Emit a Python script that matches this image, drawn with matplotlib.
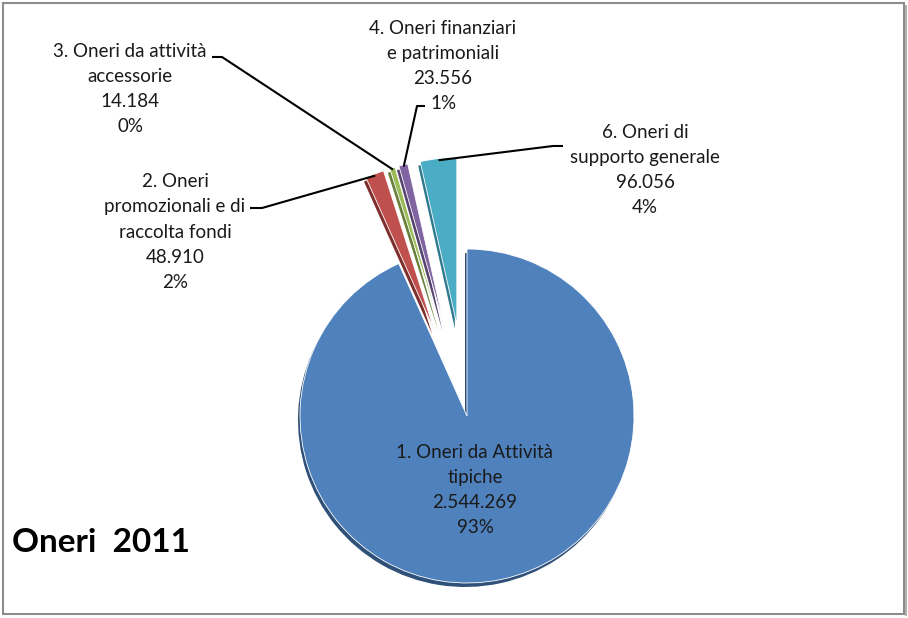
import numpy as np
import matplotlib
matplotlib.use("Agg")
import matplotlib.pyplot as plt
from matplotlib.patches import Rectangle

W, H = 908, 618

# data
names = ["1. Oneri da Attività\ntipiche", "2. Oneri\npromozionali e di\nraccolta fondi",
         "3. Oneri da attività\naccessorie", "4. Oneri finanziari\ne patrimoniali",
         "6. Oneri di\nsupporto generale"]
values = [2544269, 48910, 14184, 23556, 96056]
value_labels = ["2.544.269", "48.910", "14.184", "23.556", "96.056"]
pct_labels = ["93%", "2%", "0%", "1%", "4%"]
colors = ["#4f81bd", "#c0504d", "#9bbb59", "#8064a2", "#4bacc6"]
dark = ["#2f5078", "#7e2f2d", "#67803a", "#56436f", "#2f7a8e"]

# layout (pixel coords, y from top)
center_px = (467, 416)
radius = 167
explode = [0, 92, 92, 92, 92]   # matplotlib takes this in data units
text_pos = [(475, 490), (175, 232), (130, 89), (443, 66), (645, 170)]
leader_start = [None, (250, 208), (212, 57), (425, 106), (563, 146)]
leader_elbow = [None, 12, 10, -8, -10]

plt.rcParams['font.family'] = ['Lato', 'DejaVu Sans']

fig = plt.figure(figsize=(W / 100, H / 100), dpi=100)
ax = fig.add_axes([0, 0, 1, 1])

def fy(y):
    return H - y

cx, cy = center_px[0], fy(center_px[1])

# shadow pie for a bit of 3D depth
ax.pie(values, colors=dark, startangle=90, counterclock=False, explode=explode,
       center=(cx - 2, cy - 4), radius=radius, wedgeprops=dict(linewidth=0))
wedges, _ = ax.pie(values, colors=colors, startangle=90, counterclock=False,
                   explode=explode, center=(cx, cy), radius=radius,
                   wedgeprops=dict(linewidth=0.6, edgecolor="white"))

for i, w in enumerate(wedges):
    label = names[i] + "\n" + value_labels[i] + "\n" + pct_labels[i]
    tx, ty = text_pos[i]
    ax.text(tx, fy(ty), label, ha="center", va="center", fontsize=13.5,
            color="#1a1a1a", linespacing=1.58)
    if leader_start[i] is None:
        continue
    mid = np.deg2rad((w.theta1 + w.theta2) / 2)
    ex = w.center[0] + 0.99 * w.r * np.cos(mid)
    ey = w.center[1] + 0.99 * w.r * np.sin(mid)
    sx, sy = leader_start[i]
    ax.plot([sx, sx + leader_elbow[i], ex], [fy(sy), fy(sy), ey],
            color="black", lw=1.5, solid_capstyle="butt")

ax.text(12, fy(543), "Oneri  2011", fontsize=24, fontweight="bold",
        ha="left", va="center", color="black")

ax.set_xlim(0, W)
ax.set_ylim(0, H)
ax.set_aspect("auto")
ax.axis("off")

# chart frame
fig.patches.append(Rectangle((3 / W, 4 / H), 901 / W, 611 / H, transform=fig.transFigure,
                             fill=False, edgecolor="#8c8c8c", lw=1.5))
fig.patches.append(Rectangle((905 / W, 2 / H), 2 / W, 611 / H, transform=fig.transFigure,
                             facecolor="#b0b0b0", lw=0))

fig.savefig("out.png", dpi=100)
